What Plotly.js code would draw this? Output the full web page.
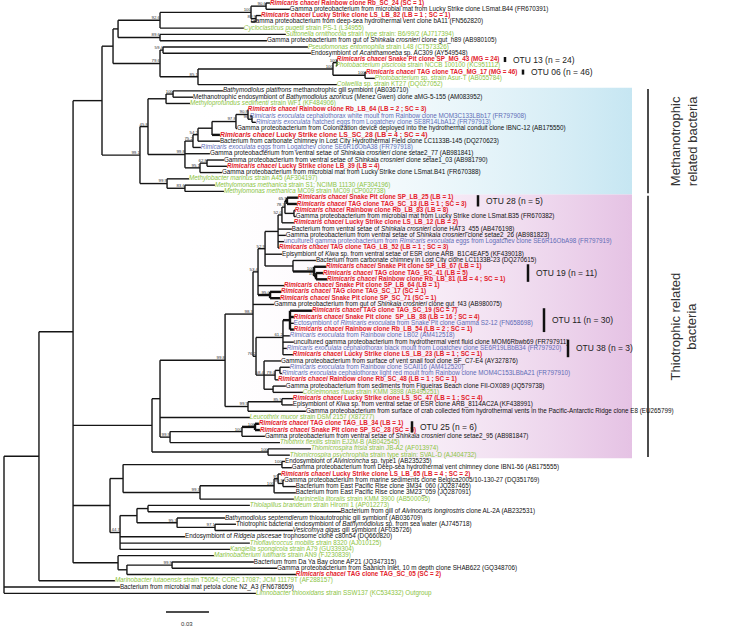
<!DOCTYPE html>
<html><head><meta charset="utf-8">
<script src="https://cdn.plot.ly/plotly-3.0.1.min.js"></script>
<style>html,body{margin:0;padding:0;background:#fff}</style>
</head><body><div id="chart" style="width:738px;height:627px"></div>
<script>
// ---------- DATA ----------
const leafNames = [
'<i>Rimicaris chacei</i> Rainbow clone Rb_SC_24 (SC = 1)',
'Gamma proteobacterium from microbial mat from Lucky Strike clone LSmat.B44 (FR670391)',
'<i>Rimicaris chacei</i> Lucky Strike clone LS_LB_82 (LB = 1 ; SC = 1)',
'Gamma proteobacterium from deep-sea hydrothermal vent clone bA11 (FN562820)',
'<i>Cycloclasticus pugetii</i> strain PS-1 (L34955)',
'<i>Suttonella ornithocola</i> strain type strain: B6/99/2 (AJ717394)',
'Gamma proteobacterium from gut of <i>Shinkaia crosnieri</i> clone gut_h89 (AB980105)',
'<i>Pseudomonas entomophila</i> strain L48 (CT573326)',
'Endosymbiont of <i>Acanthamoeba</i> sp. AC309 (AY549548)',
'<i>Rimicaris chacei</i> Snake Pit clone SP_MG_43 (MG = 24)',
'<i>Photobacterium piscicola</i> strain NCCB 100100 (KC951112)',
'<i>Rimicaris chacei</i> TAG clone TAG_MG_17 (MG = 46)',
'<i>Photobacterium</i> sp. strain Asur-T (AB055784)',
'<i>Colwellia</i> sp. strain KT27 (DQ027052)',
'<i>Bathymodiolus platifrons</i> methanotrophic gill symbiont (AB036710)',
'Methanotrophic endosymbiont of <i>Bathymodiolus azoricus</i> (Menez Gwen) clone aMG-5-155 (AM083952)',
'<i>Methyloprofundus sedimenti</i> strain WF1 (KF484906)',
'<i>Rimicaris chacei</i> Rainbow clone Rb_LB_64 (LB = 2 ; SC = 3)',
'<i>Rimicaris exoculata</i> cephalothorax white moult from Rainbow clone MOM3C133LBb17 (FR797908)',
'<i>Rimicaris exoculata</i> hatched eggs from Logatchev clone SE8R14LbA12 (FR797913)',
'Gamma proteobacterium from Colonization device deployed into the hydrothermal conduit clone IBNC-12 (AB175550)',
'<i>Rimicaris chacei</i> Lucky Strike clone LS_SC_28 (LB = 4 ; SC = 4)',
'Bacterium from carbonate chimney in Lost City Hydrothermal Field clone LC1133B-145 (DQ270623)',
'<i>Rimicaris exoculata</i> eggs from Logatchev clone SE6R16ObA38 (FR797918)',
'Gamma proteobacterium from ventral setae of <i>Shinkaia crosnieri</i> clone setae2_77 (AB981841)',
'Gamma proteobacterium from ventral setae of <i>Shinkaia crosnieri</i> clone setae1_03 (AB981790)',
'<i>Rimicaris chacei</i> Lucky Strike clone LB_39 (LB = 4)',
'Gamma proteobacterium from microbial mat from Lucky Strike clone LSmat.B41 (FR670388)',
'<i>Methylobacter marinus</i> strain A45 (AF304197)',
'<i>Methylomonas methanica</i> strain S1; NCIMB 11130 (AF304196)',
'<i>Methylomonas methanica</i> MC09 strain MC09 (CP002738)',
'<i>Rimicaris chacei</i> Snake Pit clone SP_LB_25 (LB = 1)',
'<i>Rimicaris chacei</i> TAG clone TAG_SC_13 (LB = 1 ; SC = 3)',
'<i>Rimicaris chacei</i> Rainbow clone Rb_LB_83 (LB = 8)',
'Gamma proteobacterium from microbial mat from Lucky Strike clone LSmat.B35 (FR670382)',
'<i>Rimicaris chacei</i> Lucky Strike clone LS_LB_12 (LB = 2)',
'Bacterium from ventral setae of <i>Shinkaia crosnieri</i> clone HAT3_455 (AB476198)',
'Gamma proteobacterium from ventral setae of <i>Shinkaia crosnieri</i> clone setae2_26 (AB981823)',
'uncultured gamma proteobacterium from <i>Rimicaris exoculata</i> eggs from Logatchev clone SE6R16ObA98 (FR797919)',
'<i>Rimicaris chacei</i> TAG clone TAG_LB_52 (LB = 1 ; SC = 3)',
'Episymbiont of <i>Kiwa</i> sp. from ventral setae of ESR clone ARB_B1C4EAF5 (KF439018)',
'Bacterium from carbonate chimney in Lost City clone LC1133B-23 (DQ270615)',
'<i>Rimicaris chacei</i> Snake Pit clone SP_LB_67 (LB = 1)',
'<i>Rimicaris chacei</i> TAG clone TAG_SC_41 (LB = 5)',
'<i>Rimicaris chacei</i> Rainbow clone Rb_LB_81 (LB = 4 ; SC = 1)',
'<i>Rimicaris chacei</i> Snake Pit clone SP_LB_64 (LB = 1)',
'<i>Rimicaris chacei</i> TAG clone TAG_SC_17 (SC = 1)',
'<i>Rimicaris chacei</i> Snake Pit clone SP_SC_71 (SC = 1)',
'Gamma proteobacterium from gut of <i>Shinkaia crosnieri</i> clone gut_f43 (AB980075)',
'<i>Rimicaris chacei</i> TAG clone TAG_SC_19 (SC = 7)',
'<i>Rimicaris chacei</i> Snake Pit clone  SP_LB_88 (LB = 16 ; SC = 4)',
'Ectosymbiont of <i>Rimicaris exoculata</i> from Snake Pit clone Gamma S2-12 (FN658698)',
'<i>Rimicaris chacei</i> Rainbow clone Rb_LB_54 (LB = 2 ; SC = 1)',
'<i>Rimicaris exoculata</i> from Rainbow clone LB02 (AM412518)',
'uncultured gamma proteobacterium from hydrothermal vent fluid clone MOM6Rbwb69 (FR797911)',
'<i>Rimicaris exoculata</i> cephalothorax black moult from Logatchev clone SE6R19LBbB34 (FR797920)',
'<i>Rimicaris chacei</i> Lucky Strike clone LS_LB_23 (LB = 1 ; SC = 1)',
'Gamma proteobacterium from surface of vent snail foot clone SF_C7-E4 (AY327876)',
'<i>Rimicaris exoculata</i> from Rainbow clone SCAII16 (AM412520)',
'<i>Rimicaris exoculata</i> cephalothorax light red moult from Rainbow clone MOM4C153LBbA21 (FR797910)',
'<i>Rimicaris chacei</i> Rainbow clone Rb_SC_48 (LB = 1 ; SC = 1)',
'Gamma proteobacterium from sediments from Figueiras Beach clone FII-OX089 (JQ579738)',
'<i>Cocleimonas flava</i> strain KMM 3898 (AB495251)',
'<i>Rimicaris chacei</i> Lucky Strike clone LS_SC_47 (LB = 1 ; SC = 4)',
'Episymbiont of <i>Kiwa</i> sp. from ventral setae of ESR clone ARB_8114AC2A (KF438991)',
'Gamma proteobacterium from surface of crab collected from hydrothermal vents in the Pacific-Antarctic Ridge clone E8 (EU265799)',
'<i>Leucothrix mucor</i> strain DSM 2157 (X87277)',
'<i>Rimicaris chacei</i> TAG clone TAG_LB_34 (LB = 1)',
'<i>Rimicaris chacei</i> Snake Pit clone SP_SC_28 (SC = 5)',
'Gamma proteobacterium from ventral setae of <i>Shinkaia crosnieri</i> clone setae2_95 (AB981847)',
'<i>Thiothrix flexilis</i> strain EJ2M-B (AB042545)',
'<i>Thiomicrospira frisia</i> strain JB-A2 (AF013974)',
'<i>Thiomicrospira psychrophila</i> strain type strain: SVAL-D (AJ404732)',
'Endosymbiont of <i>Alviniconcha</i> sp. type1 (AB235235)',
'Gamma proteobacterium from Deep-sea hydrothermal vent chimney clone IBN1-56 (AB175555)',
'<i>Rimicaris chacei</i> Lucky Strike clone LS_LB_65 (LB = 4 ; SC = 2)',
'Gamma proteobacterium from marine sediments clone Belgica2005/10-130-27 (DQ351769)',
'Bacterium from East Pacific Rise clone 3M34_060 (JQ287465)',
'Bacterium from East Pacific Rise clone 3M23_059 (JQ287091)',
'<i>Marinicella litoralis</i> strain KMM 3900 (AB500095)',
'<i>Thiolapillus brandeum</i> strain Hiromi 1 (AP012273)',
'Bacterium from gill of <i>Alvinocaris longirostris</i> clone AL-2A (AB232531)',
'<i>Bathymodiolus septemdierum</i> thioautotrophic gill symbiont (AB036709)',
'Thiotrophic bacterial endosymbiont of <i>Bathymodiolus</i> sp. from sea water (AJ745718)',
'<i>Vesicomya gigas</i> gill symbiont (AF035726)',
'Endosymbiont of <i>Ridgeia piscesae</i> trophosome clone c80n54 (DQ660820)',
'<i>Thioflavicoccus mobilis</i> strain 8320 (AJ010125)',
'<i>Kangiella spongicola</i> strain A79 (GU339304)',
'<i>Marinobacterium lutimaris</i> strain AN9 (FJ230839)',
'Bacterium from Da Ya Bay clone AP21 (JQ347315)',
'Gamma proteobacterium from Saanich Inlet, 10 m depth clone SHAB622 (GQ348706)',
'<i>Rimicaris chacei</i> TAG clone TAG_SC_05 (SC = 2)',
'<i>Marinobacter lutaoensis</i> strain T5054; CCRC 17087; JCM 11179T (AF288157)',
'Bacterium from microbial mat petola clone N2_A3 (FN678659)',
'<i>Limnobacter thiooxidans</i> strain SSW137 (KC534332) Outgroup'
];
// r = R. chacei clone, R = highlighted clone, k = environmental, g = cultured strain, b = R. exoculata
const leafKind = ['r','k','r','k','g','g','k','g','k','r','g','r','g','g','k','k','g','r','b','b',
'k','R','k','b','k','k','r','k','g','g','g','r','r','r','k','r','k','k','b','r',
'k','k','r','r','r','r','r','r','k','r','r','b','r','b','k','b','r','k','b','b',
'r','k','g','r','k','k','g','r','r','k','g','g','g','k','k','r','k','k','k','g',
'g','k','k','k','k','k','g','g','g','k','k','r','g','k','g'];
// distance from root to each tip (substitutions per site)
const leafDepth = [0.1856,0.1995,0.1793,0.1723,0.1674,0.1967,0.1835,0.2121,0.2142,0.2323,
0.2316,0.2526,0.2588,0.2323,0.1528,0.1319,0.1298,0.1702,0.1716,0.1758,
0.1626,0.1507,0.1507,0.1374,0.1437,0.1535,0.1556,0.1521,0.1291,0.1472,
0.1535,0.2051,0.2044,0.2030,0.2037,0.2023,0.2009,0.1967,0.1954,0.1919,
0.1940,0.2177,0.2247,0.2226,0.2254,0.1954,0.1933,0.1926,0.1884,0.2149,
0.2023,0.2023,0.2023,0.1995,0.2023,0.1974,0.2016,0.1933,0.1995,0.1940,
0.1912,0.1967,0.2086,0.2016,0.2016,0.2107,0.1716,0.1779,0.1786,0.1821,
0.1926,0.2142,0.1995,0.1961,0.2009,0.1933,0.1954,0.2037,0.2037,0.2023,
0.1716,0.2351,0.1542,0.1619,0.2016,0.1263,0.1716,0.1577,0.1465,0.1744,
0.1905,0.2037,0.0774,0.0809,0.1758];
// tips whose branches are drawn heavier (main R. chacei OTU members)
const boldTips = [22, 32, 33, 43, 44, 45, 47, 48, 50, 51, 53, 68, 69];
// tree topology: [node depth, bootstrap, children...]; numbers = leaf (1-based)
const tree =
[0, '',
  [0.0244, '',
    [0.0482, '',
      [0.0684, '',
        [0.0761, '',
          [0.0796, '',
            [0.1089, '92.6',
              [0.1724, '100', [0.1829, '90.6', 1, 2], [0.1759, '89.9', 3, 4]],
              5],
            [0.1089, '89.6', 6, 7]],
          [0.1089, '79.6',
            [0.1110, '59.4', 8, 9],
            [0.1354, '85.1',
              [0.2296, '100', [0.2324, '100', 10, 11], [0.2520, '100', 12, 13]],
              14]]],
        [0.0949, '99.1',
          [0.1005, '45.8',
            [0.1131, '', [0.1180, '100', 15, 16], 17],
            [0.1263, '99.8',
              [0.1319, '75.2',
                [0.1354, '54.2',
                  [0.1452, '',
                    [0.1619, '97.8', [0.1703, '90.8', 18, [0.1731, '96.7', 19, 20]], 21],
                    22],
                  23],
                24],
              25,
              [0.1368, '95.1', [0.1417, '62.8', 26, 27], 28]]],
          [0.1138, '99.9', 29, [0.1263, '83.6', 30, 31]]]],
      [0.1033, '',
        [0.1089, '',
          [0.1543, '99.8',
            [0.1738, '98.3',
              [0.1773, '53.4',
                [0.1822, '52.9',
                  [0.1913, '',
                    [0.1940, '52.0',
                      [0.1961, '78.3', [0.1975, '65.5', 32, 33], [0.2024, '', 34, 35]],
                      36],
                    37, 38, 39, 40],
                  41,
                  [0.2017, '', 42, [0.2164, '100', 43, [0.2178, '100', 44, 45]]]],
                46,
                [0.1857, '95.0', 47, 48]],
              49,
              [0.1759, '76.2',
                [0.1947, '61.2', [0.1996, '', 50, 51, 52, 53], 54, 55, 56, 57],
                [0.1815, '58.4', 58, [0.1892, '79.0', [0.1926, '', 59, 60], 61], [0.1878, '', 62, 63]]]],
            [0.1703, '99.5', [0.1940, '85.5', 64, 65], 66]],
          67,
          [0.1159, '99.9', [0.1661, '100', [0.1752, '100', 68, 69], 70], 71]],
        [0.1843, '100', 72, 73]],
      [0.0740, '',
        [0.0831, '', [0.1940, '100', 74, 75],
          [0.1368, '99.3', [0.1885, '100', [0.1913, '91', 76, [0.1947, '99.9', 77, 78]], 79], 80]],
        [0.0810, '44.7', [0.0928, '', [0.1005, '', 81, 82], [0.1208, '95.3', 83, [0.1473, '97.1', 84, 85]]], 86, 87, 88]],
      [0.0796, '', 89, [0.0858, '', [0.1173, '99.9', 90, 91], 92]]],
    93],
  94, 95];
// OTU groupings of R. chacei clones
const otuLabels = ['OTU 13 (n = 24)','OTU 06 (n = 46)','OTU 28 (n = 5)','OTU 19 (n = 11)','OTU 11 (n = 30)','OTU 38 (n = 3)','OTU 25 (n = 6)'];
const otuFirstLeaf = [10, 12, 32, 43, 50, 55, 68];
const otuLastLeaf  = [10, 12, 33, 45, 53, 57, 69];
// clade annotations
const cladeLabels = ['Methanotrophic<br>related bacteria', 'Thiotrophic related<br>bacteria'];
const cladeFirstLeaf = [15, 32];
const cladeLastLeaf = [31, 73];
const scaleBarLength = 0.03;

// ---------- LAYOUT HELPERS ----------
const W = 738, H = 627;
const xRange = [-0.00279, 0.5123];
const yRange = [99.36, -0.478];
const px2x = p => xRange[0] + p / W * (xRange[1] - xRange[0]);
const FONT = 'Liberation Sans, Arial, sans-serif';

const thin = {x: [], y: []}, thick = {x: [], y: []};
const supX = [], supY = [], supT = [];
function seg(bold, xa, xb, ya, yb) { const t = bold ? thick : thin; t.x.push(xa, xb, null); t.y.push(ya, yb, null); }
function place(n) {
  if (typeof n === 'number') return {x: leafDepth[n - 1], y: n - 1, bold: boldTips.includes(n)};
  const [d, s, ...kids] = n;
  const pts = kids.map(place);
  const y0 = pts[0].y, y1 = pts[pts.length - 1].y, y = (y0 + y1) / 2;
  const nb = pts.filter(p => p.bold).length;
  const bold = nb >= 2 || (nb === pts.length);
  seg(bold, d, d, y0, y1);
  pts.forEach(p => seg(p.bold, d, p.x, p.y, p.y));
  if (s) { supX.push(d); supY.push(y); supT.push(s); }
  return {x: d, y, bold};
}
place(tree);

const kindColor = {r: '#e3222b', R: '#e3222b', k: '#111111', g: '#8cc43f', b: '#5e6cb6'};
const rows = leafNames.map((_, i) => i);
const txt = leafNames.map((s, i) => (leafKind[i] === 'r' || leafKind[i] === 'R') ? '<b>' + s + '</b>' : s);
const sizes = leafKind.map(k => k === 'R' ? 6.9 : 6.3);
const colors = leafKind.map(k => kindColor[k]);

const traces = [];
const shadeCols = ['rgb(198,230,242)', 'rgb(229,194,228)'];
cladeFirstLeaf.forEach((f, i) => {
  const y0 = f - 1 - 0.5, y1 = cladeLastLeaf[i] - 1 + 0.5;
  const x0 = px2x(180), x1 = px2x(632);
  traces.push({type: 'scatter', mode: 'lines', x: [x0, x1, x1, x0, x0], y: [y0, y0, y1, y1, y0],
    fill: 'toself', line: {width: 0}, hoverinfo: 'skip',
    fillgradient: {type: 'horizontal', colorscale: [[0, 'rgba(255,255,255,0)'], [1, shadeCols[i]]]}});
});
traces.push({type: 'scatter', mode: 'lines', x: thin.x, y: thin.y, line: {color: '#151515', width: 1.4}, hoverinfo: 'skip'});
traces.push({type: 'scatter', mode: 'lines', x: thick.x, y: thick.y, line: {color: '#111', width: 2.4}, hoverinfo: 'skip'});
traces.push({type: 'scatter', mode: 'text', x: leafDepth, y: rows, text: txt, textposition: 'middle right',
  textfont: {family: FONT, size: sizes, color: colors}, hoverinfo: 'skip', cliponaxis: false});
traces.push({type: 'scatter', mode: 'text', x: supX, y: supY, text: supT, textposition: 'top left',
  textfont: {family: FONT, size: 4.4, color: '#333'}, hoverinfo: 'skip', cliponaxis: false});

const otuBarPx = [505, 523, 478, 528, 544, 568, 412];
const shapes = [], annotations = [];
otuLabels.forEach((t, i) => {
  const bx = px2x(otuBarPx[i]);
  const y0 = otuFirstLeaf[i] - 1 - 0.4, y1 = otuLastLeaf[i] - 1 + 0.4;
  shapes.push({type: 'line', xref: 'x', yref: 'y', x0: bx, x1: bx, y0, y1, line: {color: '#111', width: 2.5}});
  annotations.push({xref: 'x', yref: 'y', x: px2x(otuBarPx[i] + 6), y: (y0 + y1) / 2, text: t, showarrow: false,
    xanchor: 'left', yanchor: 'middle', font: {family: FONT, size: 8.5, color: '#222'}});
});
cladeLabels.forEach((t, i) => {
  const y0 = cladeFirstLeaf[i] - 1 - 0.3, y1 = cladeLastLeaf[i] - 1 + 0.3;
  shapes.push({type: 'line', xref: 'paper', yref: 'y', x0: 648 / W, x1: 648 / W, y0, y1, line: {color: '#111', width: 1.5}});
  annotations.push({xref: 'paper', yref: 'y', x: 684 / W, y: (y0 + y1) / 2, text: t, showarrow: false, textangle: -90,
    xanchor: 'center', yanchor: 'middle', font: {family: FONT, size: 13, color: '#333'}});
});
const sbX0 = px2x(166);
shapes.push({type: 'line', xref: 'x', yref: 'paper', x0: sbX0, x1: sbX0 + scaleBarLength, y0: 1 - 612 / H, y1: 1 - 612 / H, line: {color: '#111', width: 1.5}});
annotations.push({xref: 'x', yref: 'paper', x: sbX0 + scaleBarLength / 2, y: 1 - 624 / H, text: String(scaleBarLength), showarrow: false,
  xanchor: 'center', yanchor: 'middle', font: {family: FONT, size: 6, color: '#333'}});

const layout = {
  width: W, height: H, margin: {l: 0, r: 0, t: 0, b: 0}, showlegend: false,
  paper_bgcolor: '#fff', plot_bgcolor: '#fff',
  xaxis: {range: xRange, visible: false, fixedrange: true},
  yaxis: {range: yRange, visible: false, fixedrange: true},
  shapes, annotations
};
Plotly.newPlot('chart', traces, layout, {staticPlot: true, displayModeBar: false});
</script></body></html>
